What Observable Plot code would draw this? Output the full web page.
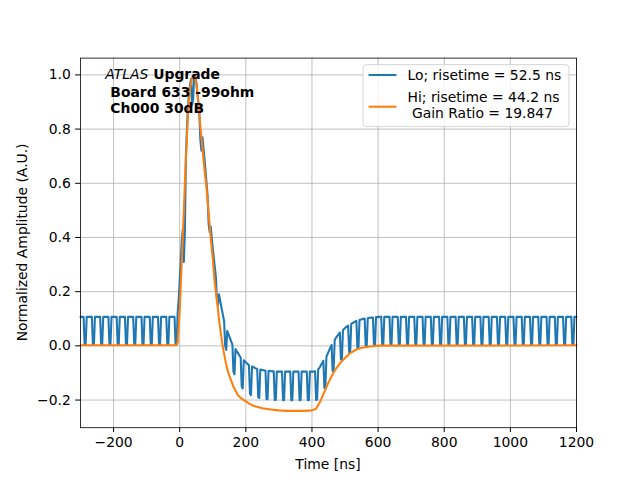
<!DOCTYPE html>
<html><head><meta charset="utf-8">
<script src="https://cdn.jsdelivr.net/npm/d3@7"></script>
<script src="https://cdn.jsdelivr.net/npm/@observablehq/plot@0.6"></script>
<style>body{margin:0;background:#fff;} svg{display:block}</style>
</head><body><div id="chart"></div>
<script>
// Lo channel: samples every 3.125 ns starting at -300 ns (one line = one 25 ns cycle)
const loStart = -300, loStep = 3.125;
const loValues = [
  0.107,0.107,0.107,0.107,0.004,0.004,0.107,0.107,
  0.107,0.107,0.107,0.107,0.004,0.004,0.107,0.107,
  0.107,0.107,0.107,0.107,0.004,0.004,0.107,0.107,
  0.107,0.107,0.107,0.107,0.004,0.004,0.107,0.107,
  0.107,0.107,0.107,0.107,0.004,0.004,0.107,0.107,
  0.107,0.107,0.107,0.107,0.004,0.004,0.107,0.107,
  0.107,0.107,0.107,0.107,0.004,0.004,0.107,0.107,
  0.107,0.107,0.107,0.107,0.004,0.004,0.107,0.107,
  0.107,0.107,0.107,0.107,0.004,0.004,0.107,0.107,
  0.107,0.107,0.107,0.107,0.004,0.004,0.107,0.107,
  0.107,0.107,0.107,0.107,0.004,0.004,0.107,0.107,
  0.107,0.107,0.107,0.107,0.004,0.004,0.12,0.17,
  0.24,0.31,0.39,0.43,0.31,0.42,0.70,0.80,
  0.88,0.93,0.965,0.985,0.89,0.91,1.0,0.995,
  0.975,0.94,0.90,0.86,0.76,0.72,0.77,0.73,
  0.69,0.645,0.60,0.555,0.45,0.42,0.44,0.40,
  0.36,0.325,0.29,0.255,0.17,0.15,0.19,0.17,
  0.15,0.13,0.11,0.09,0.0,-0.015,0.055,0.045,
  0.035,0.025,0.015,0.005,-0.095,-0.105,-0.012,-0.018,
  -0.025,-0.031,-0.037,-0.043,-0.15,-0.157,-0.053,-0.057,
  -0.061,-0.064,-0.068,-0.071,-0.177,-0.181,-0.076,-0.078,
  -0.080,-0.082,-0.084,-0.085,-0.19,-0.192,-0.087,-0.088,
  -0.089,-0.090,-0.091,-0.091,-0.196,-0.197,-0.092,-0.093,
  -0.093,-0.094,-0.094,-0.094,-0.2,-0.2,-0.095,-0.095,
  -0.095,-0.095,-0.095,-0.095,-0.201,-0.201,-0.095,-0.095,
  -0.095,-0.095,-0.095,-0.095,-0.201,-0.201,-0.095,-0.095,
  -0.095,-0.095,-0.095,-0.095,-0.201,-0.201,-0.095,-0.095,
  -0.095,-0.095,-0.095,-0.095,-0.201,-0.201,-0.095,-0.095,
  -0.095,-0.095,-0.095,-0.094,-0.2,-0.198,-0.087,-0.082,
  -0.076,-0.069,-0.062,-0.055,-0.155,-0.148,-0.040,-0.031,
  -0.022,-0.013,-0.005,0.003,-0.093,-0.085,0.022,0.028,
  0.034,0.039,0.044,0.049,-0.05,-0.046,0.058,0.062,
  0.066,0.069,0.072,0.075,-0.024,-0.021,0.081,0.083,
  0.086,0.088,0.090,0.092,-0.009,-0.007,0.095,0.096,
  0.098,0.099,0.100,0.101,-0.001,0.0,0.102,0.103,
  0.104,0.104,0.105,0.105,0.002,0.003,0.106,0.106,
  0.107,0.107,0.107,0.107,0.004,0.004,0.107,0.107,
  0.107,0.107,0.107,0.107,0.004,0.004,0.107,0.107,
  0.107,0.107,0.107,0.107,0.004,0.004,0.107,0.107,
  0.107,0.107,0.107,0.107,0.004,0.004,0.107,0.107,
  0.107,0.107,0.107,0.107,0.004,0.004,0.107,0.107,
  0.107,0.107,0.107,0.107,0.004,0.004,0.107,0.107,
  0.107,0.107,0.107,0.107,0.004,0.004,0.107,0.107,
  0.107,0.107,0.107,0.107,0.004,0.004,0.107,0.107,
  0.107,0.107,0.107,0.107,0.004,0.004,0.107,0.107,
  0.107,0.107,0.107,0.107,0.004,0.004,0.107,0.107,
  0.107,0.107,0.107,0.107,0.004,0.004,0.107,0.107,
  0.107,0.107,0.107,0.107,0.004,0.004,0.107,0.107,
  0.107,0.107,0.107,0.107,0.004,0.004,0.107,0.107,
  0.107,0.107,0.107,0.107,0.004,0.004,0.107,0.107,
  0.107,0.107,0.107,0.107,0.004,0.004,0.107,0.107,
  0.107,0.107,0.107,0.107,0.004,0.004,0.107,0.107,
  0.107,0.107,0.107,0.107,0.004,0.004,0.107,0.107,
  0.107,0.107,0.107,0.107,0.004,0.004,0.107,0.107,
  0.107,0.107,0.107,0.107,0.004,0.004,0.107,0.107,
  0.107,0.107,0.107,0.107,0.004,0.004,0.107,0.107,
  0.107,0.107,0.107,0.107,0.004,0.004,0.107,0.107,
  0.107,0.107,0.107,0.107,0.004,0.004,0.107,0.107,
  0.107,0.107,0.107,0.107,0.004,0.004,0.107,0.107,
  0.107,0.107,0.107,0.107,0.004,0.004,0.107,0.107,
  0.107
];
// Hi channel
const hiTime = [-300,-12.5,-6.25,0,6.25,12.5,18.75,25,31.25,37.5,43.75,50,56.25,62.5,68.75,75,81.25,87.5,93.75,100,
  106.25,112.5,118.75,125,131.25,137.5,143.75,150,162.5,175,187.5,200,212.5,225,250,275,300,325,350,375,
  400,412.5,425,437.5,450,462.5,475,487.5,500,512.5,525,537.5,550,575,600,1200];
const hiValues = [0.002,0.002,0.01,0.13,0.31,0.50,0.69,0.85,0.95,0.99,1.0,0.97,0.90,0.81,0.73,0.65,0.58,0.49,0.40,0.32,
  0.23,0.17,0.10,0.04,-0.01,-0.05,-0.085,-0.11,-0.15,-0.18,-0.195,-0.205,-0.215,-0.222,-0.23,-0.235,-0.238,-0.24,-0.24,-0.24,
  -0.238,-0.232,-0.205,-0.17,-0.135,-0.105,-0.08,-0.06,-0.045,-0.03,-0.02,-0.012,-0.007,-0.002,0.001,0.002];

const xTicks = [-200,0,200,400,600,800,1000,1200];
const yTicks = [-0.2,0,0.2,0.4,0.6,0.8,1.0];
const seriesLabels = ["Lo; risetime = 52.5 ns", "Hi; risetime = 44.2 ns", " Gain Ratio = 19.847"];
const seriesColors = ["#1f77b4", "#ff7f0e"];

const lo = loValues.map((v, i) => ({t: loStart + i * loStep, v}));
const hi = hiTime.map((t, i) => ({t, v: hiValues[i]}));

const W = 640, H = 480, mL = 80, mR = 64, mT = 57.6, mB = 52.8;
const fmtY = d => d.toFixed(1).replace("-", "\u2212");
const fmtX = d => String(d).replace("-", "\u2212");

const chart = Plot.plot({
  width: W, height: H,
  marginLeft: mL, marginRight: mR, marginTop: mT, marginBottom: mB,
  style: {fontFamily: "DejaVu Sans", fontSize: "13.9px", color: "black", background: "white"},
  x: {domain: [-300, 1200]},
  y: {domain: [-0.302, 1.062]},
  marks: [
    Plot.gridX(xTicks, {stroke: "#b0b0b0", strokeOpacity: 1, strokeWidth: 0.8}),
    Plot.gridY(yTicks, {stroke: "#b0b0b0", strokeOpacity: 1, strokeWidth: 0.8}),
    Plot.line(lo, {x: "t", y: "v", stroke: seriesColors[0], strokeWidth: 2.08, strokeLinejoin: "round"}),
    Plot.line(hi, {x: "t", y: "v", stroke: seriesColors[1], strokeWidth: 2.08, strokeLinejoin: "round"}),
    Plot.frame({stroke: "black", strokeWidth: 0.8}),
    Plot.axisX(xTicks, {tickSize: 4.86, tickPadding: 4.86, tickFormat: fmtX, label: null}),
    Plot.axisY(yTicks, {tickSize: 4.86, tickPadding: 4.86, tickFormat: fmtY, label: null})
  ]
});
document.getElementById("chart").appendChild(chart);

const svg = d3.select(chart);
const g = svg.append("g").attr("font-family", "DejaVu Sans").attr("font-size", "13.9px")
  .attr("fill", "black").attr("text-anchor", "start");
// axis labels
g.append("text").attr("x", 328).attr("y", 463.5).attr("text-anchor", "middle").attr("dominant-baseline", "central").text("Time [ns]");
g.append("text").attr("transform", `translate(22,${(mT + H - mB) / 2}) rotate(-90)`).attr("text-anchor", "middle").attr("dominant-baseline", "central").text("Normalized Amplitude (A.U.)");
// annotations
const t1 = g.append("text").attr("x", 105.3).attr("y", 74).attr("dominant-baseline", "central");
t1.append("tspan").attr("font-style", "italic").text("ATLAS");
t1.append("tspan").attr("font-weight", "bold").attr("xml:space", "preserve").style("white-space", "pre").text(" Upgrade");
g.append("text").attr("x", 110.3).attr("y", 92.3).attr("dominant-baseline", "central").attr("font-weight", "bold").text("Board 633 -99ohm");
g.append("text").attr("x", 110.3).attr("y", 108.3).attr("dominant-baseline", "central").attr("font-weight", "bold").text("Ch000 30dB");
// legend
const lg = g.append("g");
lg.append("rect").attr("x", 363).attr("y", 64.6).attr("width", 206).attr("height", 62).attr("rx", 3.5)
  .attr("fill", "white").attr("fill-opacity", 0.8).attr("stroke", "#cccccc").attr("stroke-width", 0.8);
lg.append("line").attr("x1", 368.6).attr("x2", 396.4).attr("y1", 75).attr("y2", 75).attr("stroke", seriesColors[0]).attr("stroke-width", 2.08);
lg.append("line").attr("x1", 368.6).attr("x2", 396.4).attr("y1", 106.7).attr("y2", 106.7).attr("stroke", seriesColors[1]).attr("stroke-width", 2.08);
lg.append("text").attr("x", 407.5).attr("y", 75).attr("dominant-baseline", "central").text(seriesLabels[0]);
lg.append("text").attr("x", 407.5).attr("y", 96.7).attr("dominant-baseline", "central").text(seriesLabels[1]);
lg.append("text").attr("x", 407.5).attr("y", 112.7).attr("dominant-baseline", "central").attr("xml:space", "preserve").style("white-space", "pre").text(seriesLabels[2]);
</script>
</body></html>
